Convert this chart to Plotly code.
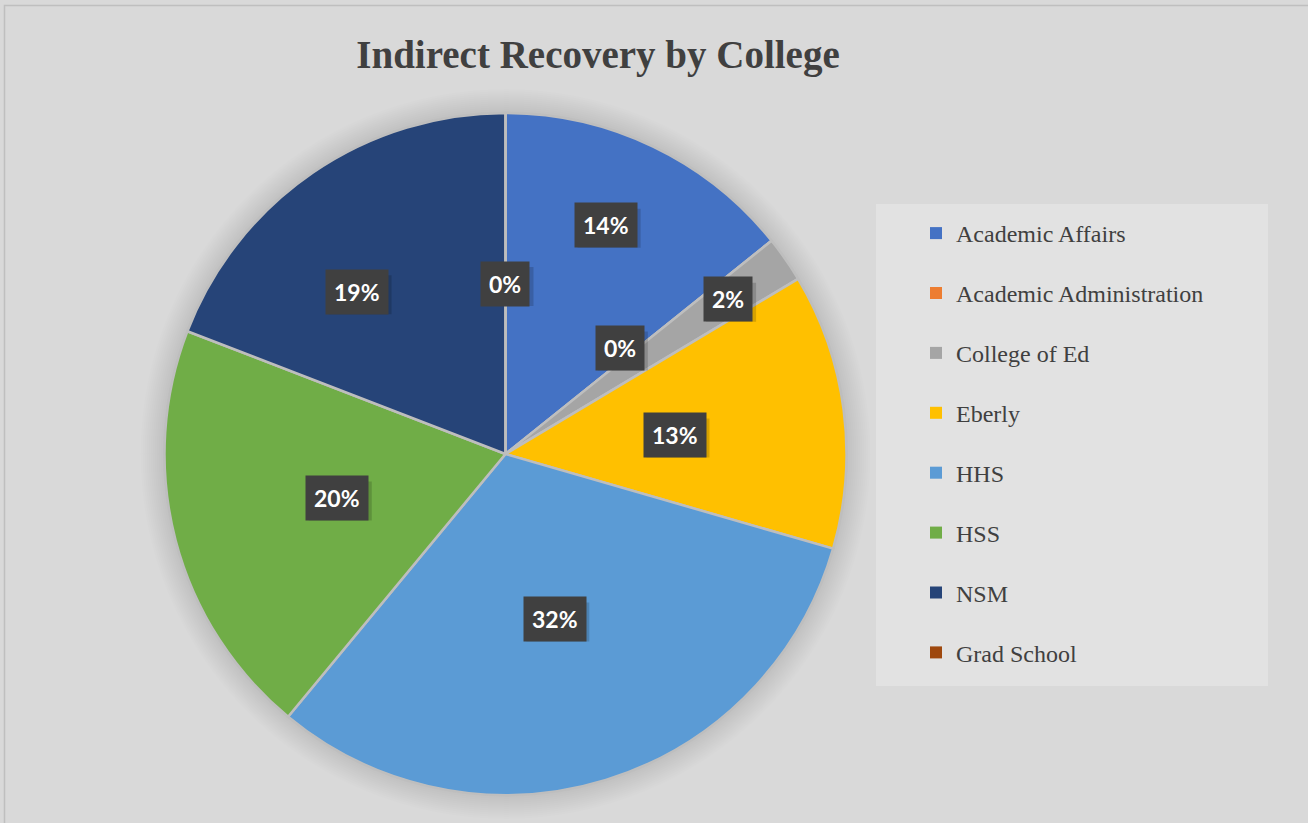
import math
import plotly.graph_objects as go

# ---- data ----
categories = ["Academic Affairs", "Academic Administration", "College of Ed", "Eberly",
              "HHS", "HSS", "NSM", "Grad School"]
values = [14.25, 0.0, 2.17, 13.06, 31.53, 19.86, 19.14, 0.0]
colors = ["#4472C4", "#ED7D31", "#A5A5A5", "#FFC000", "#5B9BD5", "#70AD47", "#264478", "#9E480E"]
title_text = "Indirect Recovery by College"

# ---- layout helpers (pixel geometry) ----
W, H = 1308, 823
cx, cy, R = 505.5, 454.0, 341.0
# label placement styling: radial fraction and angular offset (deg) per slice
label_r = [0.733, 0.457, 0.795, 0.50, 0.505, 0.51, 0.645, 0.50]
label_da = [-1.9, -4.1, 0.0, 1.0, 0.5, 0.0, -8.0, 0.0]

def px2paper(x, y):
    return x / W, 1 - y / H

fig = go.Figure()

dx0, dy0 = px2paper(cx - R, cy + R)
dx1, dy1 = px2paper(cx + R, cy - R)
fig.add_trace(go.Pie(
    labels=categories, values=values, sort=False, direction="clockwise", rotation=0,
    marker=dict(colors=colors, line=dict(color="#BEBEBE", width=2.5)),
    textinfo="none", hoverinfo="label+percent", showlegend=False,
    domain=dict(x=[dx0, dx1], y=[dy0, dy1]),
))

# legend via marker-only traces
for name, col in zip(categories, colors):
    fig.add_trace(go.Scatter(
        x=[None], y=[None], mode="markers", name=name, legendgroup=name,
        marker=dict(symbol="square", size=12, color=col),
    ))

shapes = []
# soft glow around the pie
for k in range(1, 13):
    r = R + 2 * k
    a0, b0 = px2paper(cx - r, cy + r)
    a1, b1 = px2paper(cx + r, cy - r)
    shapes.append(dict(type="circle", xref="paper", yref="paper", x0=a0, y0=b0, x1=a1, y1=b1,
                       fillcolor="rgba(0,0,0,0.009)", line=dict(width=0), layer="below"))

# data labels (with a soft drop shadow drawn as a shape)
total = sum(values)
cum = 0.0
annotations = []
for i, v in enumerate(values):
    mid = (cum + v / 2) / total * 360.0
    cum += v
    ang = math.radians(mid + label_da[i])
    lx = cx + label_r[i] * R * math.sin(ang)
    ly = cy - label_r[i] * R * math.cos(ang)
    pct = f"{round(v / total * 100)}%"
    bw = 13 * len(pct) + 24
    bh = 39
    s0x, s0y = px2paper(lx - bw / 2 + 3, ly + bh / 2 + 3)
    s1x, s1y = px2paper(lx + bw / 2 + 3, ly - bh / 2 + 3)
    shapes.append(dict(type="rect", xref="paper", yref="paper", x0=s0x, y0=s0y, x1=s1x, y1=s1y,
                       fillcolor="rgba(0,0,0,0.16)", line=dict(width=0), layer="above"))
    px, py = px2paper(lx, ly)
    annotations.append(dict(
        x=px, y=py, xref="paper", yref="paper", showarrow=False,
        xanchor="center", yanchor="middle", text=f"<b>{pct}</b>",
        font=dict(family="Lato", size=23, color="white"),
        bgcolor="#404040", borderpad=8,
    ))

lx0, ly0 = px2paper(876, 686)
lx1, ly1 = px2paper(1268, 204)
bx0, by0 = px2paper(4.5, 830)
bx1, by1 = px2paper(1312, 5.5)
shapes += [
    dict(type="rect", xref="paper", yref="paper", x0=lx0, y0=ly0, x1=lx1, y1=ly1,
         fillcolor="#E2E2E2", line=dict(width=0), layer="below"),
    dict(type="rect", xref="paper", yref="paper", x0=bx0, y0=by0, x1=bx1, y1=by1,
         fillcolor="rgba(0,0,0,0)", line=dict(color="#BFBFBF", width=1.5)),
]

tx, ty = px2paper(598, 54)
fig.update_layout(
    width=W, height=H,
    margin=dict(l=0, r=0, t=0, b=0),
    paper_bgcolor="#D9D9D9", plot_bgcolor="rgba(0,0,0,0)",
    title=dict(text=f"<b>{title_text}</b>", x=tx, y=ty, xanchor="center", yanchor="middle",
               xref="paper", yref="paper",
               font=dict(family="Liberation Serif", size=39, color="#404040")),
    xaxis=dict(visible=False), yaxis=dict(visible=False),
    legend=dict(x=px2paper(916, 0)[0], y=px2paper(0, 211)[1], xanchor="left", yanchor="top",
                bgcolor="rgba(0,0,0,0)", tracegroupgap=25.7, itemwidth=30,
                font=dict(family="Liberation Serif", size=24, color="#404040")),
    annotations=annotations, shapes=shapes,
)

fig.write_html("out.html", config={"displayModeBar": False},
               post_script="document.body.style.margin='0px';document.body.style.overflow='hidden';")
